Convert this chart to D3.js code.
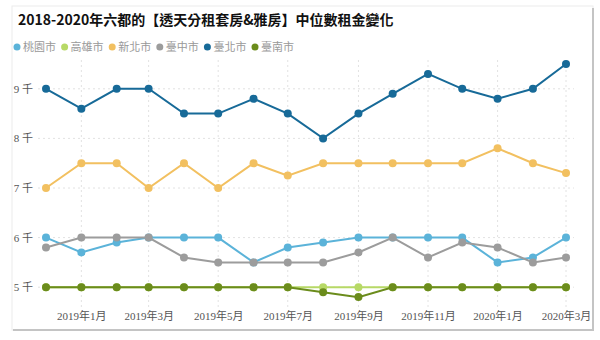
<!DOCTYPE html>
<html><head><meta charset="utf-8">
<script src="https://cdn.jsdelivr.net/npm/d3@7"></script>
<style>
html,body{margin:0;padding:0;background:#fff;}
svg{display:block;}
</style>
</head><body>
<svg id="chart" width="600" height="340"></svg>
<script>
const months = ["2018-12","2019-01","2019-02","2019-03","2019-04","2019-05","2019-06","2019-07","2019-08","2019-09","2019-10","2019-11","2019-12","2020-01","2020-02","2020-03"];
const seriesNames = ["桃園市","高雄市","新北市","臺中市","臺北市","臺南市"];
const seriesColors = ["#5bb3d9","#b7d966","#f2c060","#9c9c9c","#176a98","#6b8c1c"];
const taoyuan   = [6.0,5.7,5.9,6.0,6.0,6.0,5.5,5.8,5.9,6.0,6.0,6.0,6.0,5.5,5.6,6.0];
const kaohsiung = [5.0,5.0,5.0,5.0,5.0,5.0,5.0,5.0,5.0,5.0,5.0,5.0,5.0,5.0,5.0,5.0];
const newTaipei = [7.0,7.5,7.5,7.0,7.5,7.0,7.5,7.25,7.5,7.5,7.5,7.5,7.5,7.8,7.5,7.3];
const taichung  = [5.8,6.0,6.0,6.0,5.6,5.5,5.5,5.5,5.5,5.7,6.0,5.6,5.9,5.8,5.5,5.6];
const taipei    = [9.0,8.6,9.0,9.0,8.5,8.5,8.8,8.5,8.0,8.5,8.9,9.3,9.0,8.8,9.0,9.5];
const tainan    = [5.0,5.0,5.0,5.0,5.0,5.0,5.0,5.0,4.9,4.8,5.0,5.0,5.0,5.0,5.0,5.0];
const seriesValues = [taoyuan,kaohsiung,newTaipei,taichung,taipei,tainan];
const yTicks = [5,6,7,8,9];
const xTickMonths = ["2019-01","2019-03","2019-05","2019-07","2019-09","2019-11","2020-01","2020-03"];
const title = "2018-2020年六都的【透天分租套房&雅房】中位數租金變化";

const parse = d3.timeParse("%Y-%m");
const svg = d3.select("#chart");

// card frame
svg.append("rect").attr("x",12).attr("y",6).attr("width",581).attr("height",324)
  .attr("fill","#fff").attr("stroke","#ececec").attr("stroke-width",1);
svg.append("line").attr("x1",593).attr("x2",593).attr("y1",8).attr("y2",331)
  .attr("stroke","#c4c4c4").attr("stroke-width",2);
svg.append("line").attr("x1",13).attr("x2",594).attr("y1",330).attr("y2",330)
  .attr("stroke","#c4c4c4").attr("stroke-width",2);

const cjk = "'Noto Sans CJK TC','Noto Sans CJK SC',sans-serif";
const serif = "'Liberation Serif','DejaVu Serif','Noto Sans CJK TC',serif";

svg.append("text").attr("x",18).attr("y",25).attr("font-family",cjk)
  .attr("font-size",14).attr("font-weight","bold").attr("fill","#111").text(title);

// legend
const leg = svg.append("g");
seriesNames.forEach((n,i)=>{
  const g = leg.append("g").attr("transform",`translate(${17+i*47.6},47)`);
  g.append("circle").attr("r",3.5).attr("fill",seriesColors[i]);
  g.append("text").attr("x",6).attr("y",4).attr("font-family",cjk).attr("font-size",11)
    .attr("fill","#999").text(n);
});

const x = d3.scaleTime().domain([parse("2018-12"),parse("2020-03")]).range([46,566]);
const y = d3.scaleLinear().domain([4.5,9.5]).range([312,64]);

// horizontal grid
svg.append("g").selectAll("line").data(yTicks).join("line")
  .attr("x1",38).attr("x2",574).attr("y1",d=>y(d)).attr("y2",d=>y(d))
  .attr("stroke","#e2e2e2").attr("stroke-width",1).attr("stroke-dasharray","2,3");
// vertical grid
svg.append("g").selectAll("line").data(xTickMonths).join("line")
  .attr("x1",d=>x(parse(d))).attr("x2",d=>x(parse(d))).attr("y1",60).attr("y2",310)
  .attr("stroke","#e2e2e2").attr("stroke-width",1).attr("stroke-dasharray","2,3");

// y axis
const yAxis = d3.axisLeft(y).tickValues(yTicks).tickSize(0).tickPadding(0)
  .tickFormat(d=>d+" 千");
const yg = svg.append("g").attr("transform","translate(33,0)").call(yAxis);
yg.select(".domain").remove();
yg.selectAll("text").attr("font-family",serif).attr("font-size",11).attr("fill","#555");

// x axis
const xAxis = d3.axisBottom(x).tickValues(xTickMonths.map(parse)).tickSize(0).tickPadding(0)
  .tickFormat(d=>d.getFullYear()+"年"+(d.getMonth()+1)+"月");
const xg = svg.append("g").attr("transform","translate(0,312)").call(xAxis);
xg.select(".domain").remove();
xg.selectAll("text").attr("font-family",serif).attr("font-size",11).attr("fill","#555");

// lines
const line = d3.line().x((d,i)=>x(parse(months[i]))).y(d=>y(d));
seriesValues.forEach((vals,si)=>{
  const g = svg.append("g");
  g.append("path").datum(vals).attr("d",line).attr("fill","none")
    .attr("stroke",seriesColors[si]).attr("stroke-width",2);
  g.selectAll("circle").data(vals).join("circle")
    .attr("cx",(d,i)=>x(parse(months[i]))).attr("cy",d=>y(d)).attr("r",4)
    .attr("fill",seriesColors[si]);
});
</script>
</body></html>
